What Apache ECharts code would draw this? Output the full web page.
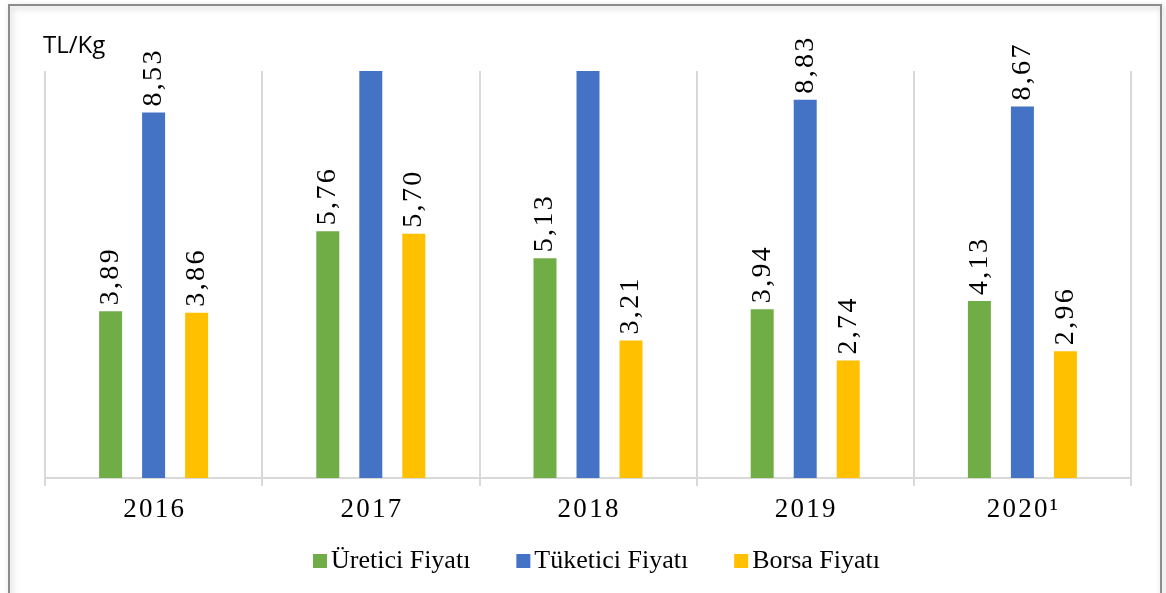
<!DOCTYPE html>
<html>
<head>
<meta charset="utf-8">
<script src="https://cdn.jsdelivr.net/npm/echarts@6/dist/echarts.min.js"></script>
<style>
  html, body { margin: 0; padding: 0; background: #fff; }
  #main { width: 1166px; height: 593px; }
</style>
</head>
<body>
<div id="main"></div>
<script>
// yıllar
const years = ['2016', '2017', '2018', '2019', '2020¹']
// fiyatlar (TL/Kg)
const ureticiFiyati = [3.89, 5.76, 5.13, 3.94, 4.13]
// 2017 ve 2018 değerleri grafik dışında kalıyor, tahmini
const tuketiciFiyati = [8.53, 10.4, 10.6, 8.83, 8.67]
const borsaFiyati = [3.86, 5.70, 3.21, 2.74, 2.96]
// grafik dışına taşan çubuklar (etiket yok)
const hiddenLabels = [1, 2]

const chart = echarts.init(document.getElementById('main'))

// harfler arası küçük boşluk
const spaced = (s) => s.split('').join('\u200A')
const fmt = (p) => spaced(p.value.toFixed(2).replace('.', ','))

const valueLabel = {
  show: true,
  position: 'top',
  rotate: 90,
  align: 'left',
  verticalAlign: 'middle',
  distance: 6,
  fontFamily: 'Liberation Serif',
  fontSize: 28,
  color: '#000',
  formatter: fmt
}

function makeSeries (name, values, color, hide) {
  return {
    name: name,
    type: 'bar',
    barWidth: 23,
    barGap: '87%',
    itemStyle: { color: color },
    label: valueLabel,
    data: values.map((v, i) => {
      if (hide && hide.indexOf(i) !== -1) {
        return { value: v, label: { show: false } }
      }
      return v
    })
  }
}

const option = {
  animation: false,
  backgroundColor: '#fff',
  graphic: [
    {
      type: 'rect',
      shape: { x: 9, y: 5, width: 1152, height: 610 },
      style: {
        fill: 'none',
        stroke: '#8c8c8c',
        lineWidth: 2,
        shadowBlur: 6,
        shadowColor: 'rgba(0,0,0,0.25)',
        shadowOffsetX: 2,
        shadowOffsetY: 2
      }
    },
    {
      type: 'text',
      left: 43,
      top: 34,
      style: {
        text: 'TL/Kg',
        fontFamily: 'Open Sans',
        fontSize: 24,
        fill: '#000'
      }
    }
  ],
  grid: {
    left: 45,
    right: 35,
    top: 71,
    bottom: 115
  },
  legend: {
    top: 543,
    left: 308,
    itemWidth: 14,
    itemHeight: 14,
    itemGap: 46,
    icon: 'rect',
    textStyle: {
      fontFamily: 'Liberation Serif',
      fontSize: 26,
      color: '#000',
      padding: [0, 0, 0, -1]
    },
    data: ['Üretici Fiyatı', 'Tüketici Fiyatı', 'Borsa Fiyatı']
  },
  xAxis: {
    type: 'category',
    data: years,
    axisLine: { lineStyle: { color: '#d9d9d9', width: 2 } },
    axisTick: { show: true, length: 8, lineStyle: { color: '#d9d9d9', width: 2 } },
    splitLine: { show: true, lineStyle: { color: '#d9d9d9', width: 2 } },
    axisLabel: {
      margin: 18,
      fontFamily: 'Liberation Serif',
      fontSize: 27,
      color: '#000',
      formatter: (v) => spaced(v)
    }
  },
  yAxis: {
    type: 'value',
    min: 0,
    max: 9.5,
    show: false,
    splitLine: { show: false }
  },
  series: [
    makeSeries('Üretici Fiyatı', ureticiFiyati, '#70ad47'),
    makeSeries('Tüketici Fiyatı', tuketiciFiyati, '#4472c4', hiddenLabels),
    makeSeries('Borsa Fiyatı', borsaFiyati, '#ffc000')
  ]
}

chart.setOption(option)
</script>
</body>
</html>
